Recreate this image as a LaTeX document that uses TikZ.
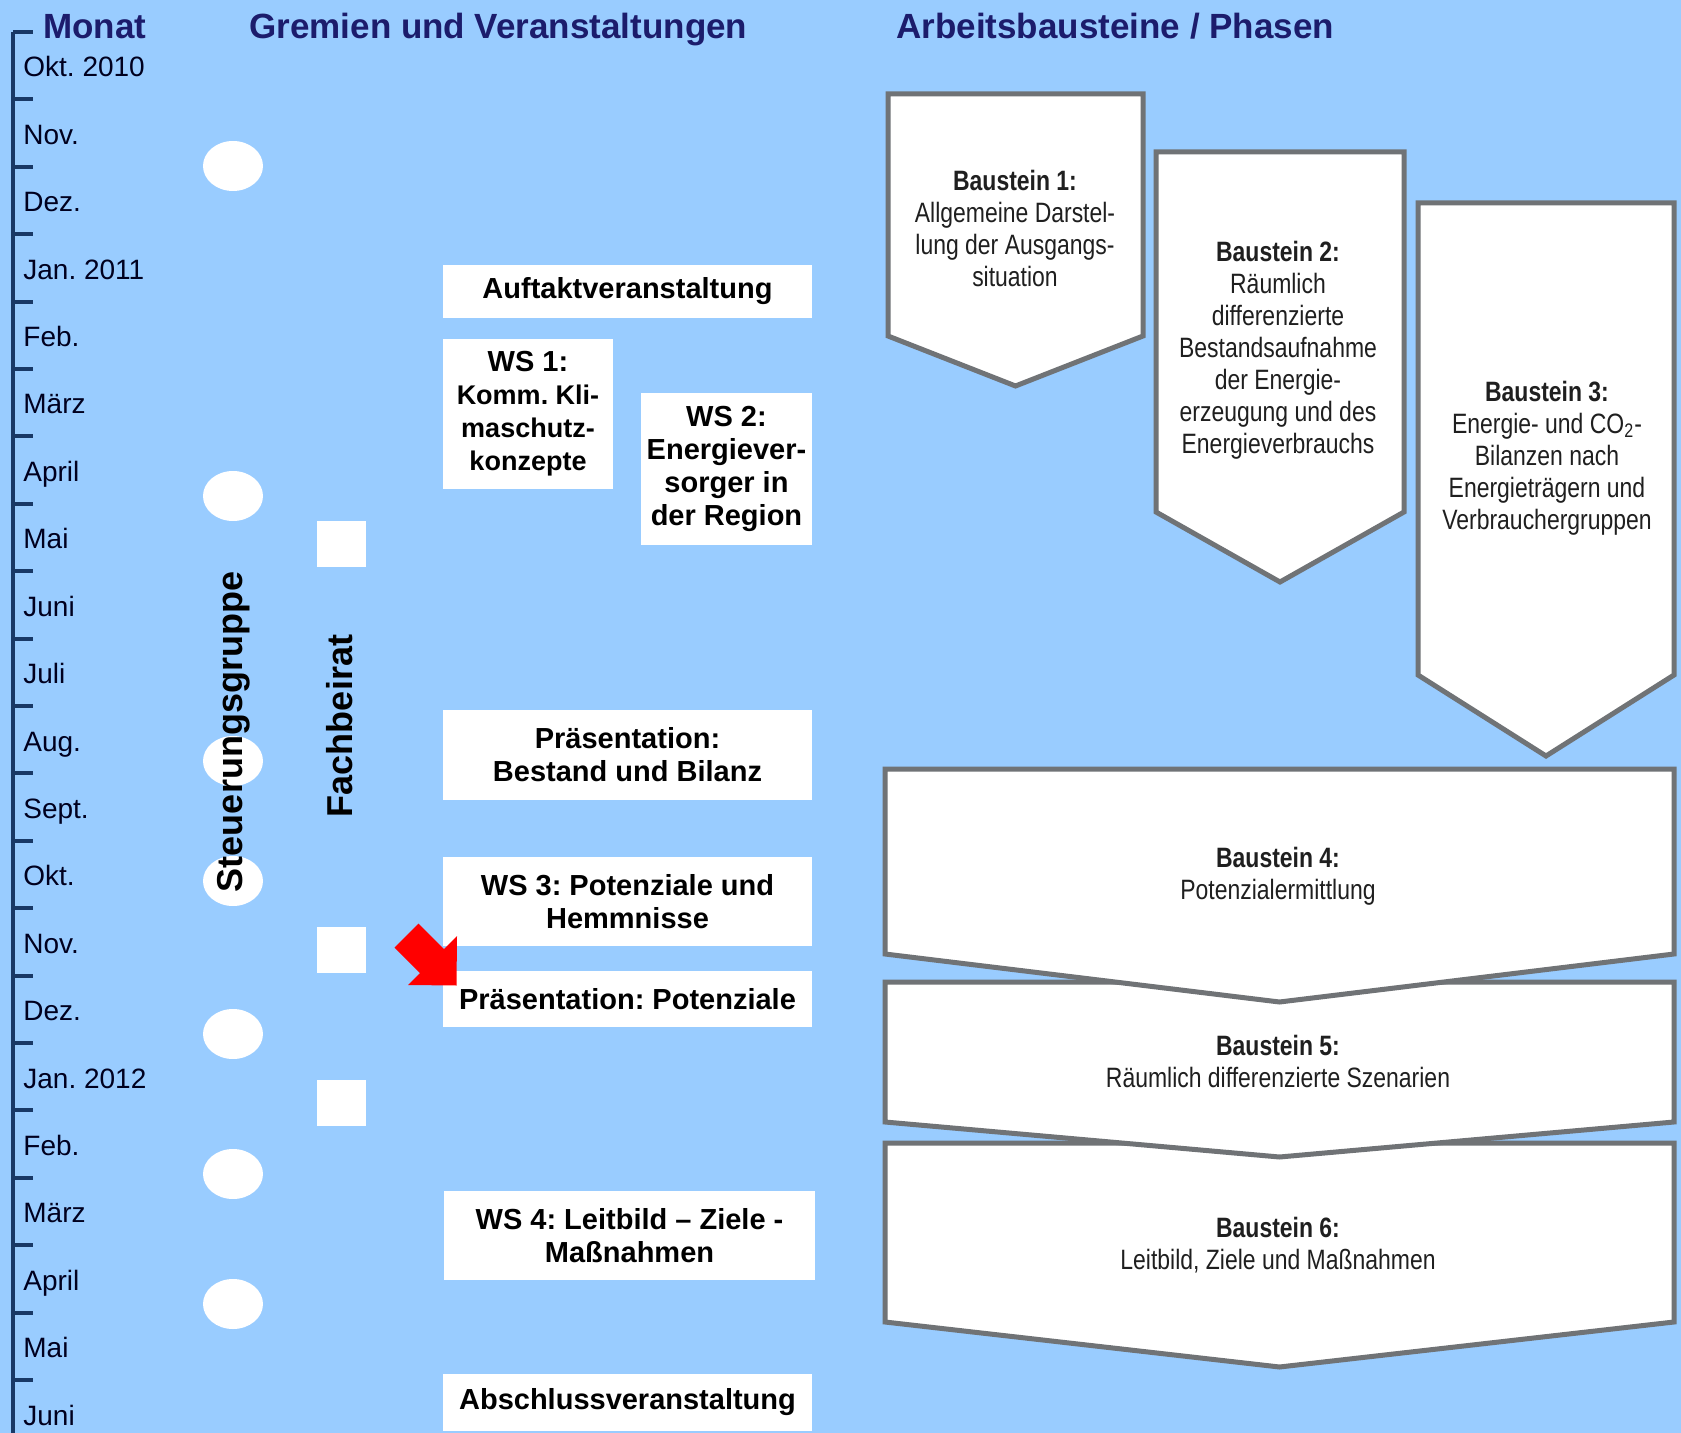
\documentclass[tikz,border=0pt]{standalone}
\usepackage{fontspec}
\setmainfont{Liberation Sans}
\newfontfamily\narrowfont[FakeStretch=0.82]{Liberation Sans}
\usepackage{xcolor}
\usepackage{tikz}
\usetikzlibrary{shapes.geometric}
\definecolor{planbg}{RGB}{153,204,255}
\definecolor{headnavy}{RGB}{28,28,108}
\definecolor{axisblue}{RGB}{24,56,102}
\definecolor{chevgray}{RGB}{112,115,118}
\tikzset{
  headlabel/.style={anchor=base west, inner sep=0pt, text=headnavy, font=\bfseries\fontsize{17.5}{20}\selectfont},
  monthlabel/.style={anchor=base west, inner sep=0pt, text=black!88!blue, font=\fontsize{14}{16}\selectfont},
  axisline/.style={axisblue, line width=2pt},
  meetdot/.style={ellipse, fill=white, inner sep=0pt, minimum width=30pt, minimum height=25pt},
  meetsquare/.style={rectangle, fill=white, inner sep=0pt, minimum width=24.5pt, minimum height=23pt},
  grouplabel/.style={rotate=90, inner sep=0pt, font=\bfseries\fontsize{18}{20}\selectfont},
  eventbox/.style={fill=white, inner sep=0pt, align=center, font=\bfseries\fontsize{14.5}{16.5}\selectfont},
  bausteinshape/.style={draw=chevgray, line width=2.5pt, fill=white, line join=miter},
  bausteintext/.style={align=center, inner sep=0pt, text=black!88, font=\narrowfont\fontsize{14}{16}\selectfont},
}

\begin{document}
\frenchspacing
\begin{tikzpicture}[x=0.5pt,y=-0.5pt]
	% Background
		\fill[planbg] (0,0) rectangle (1681,1433);
		\useasboundingbox (0,0) rectangle (1681,1433);

	% Column heads
		\node[headlabel] (hmonat) at (43,39) {Monat};
		\node[headlabel] (hgremien) at (249,39) {Gremien und Veranstaltungen};
		\node[headlabel] (hbausteine) at (896,39) {Arbeitsbausteine / Phasen};

	% Month axis
		\draw[axisline] (13,32) -- (13,1433);
		\foreach \k in {0,...,20}
			\draw[axisline] (13,{32+67.4*\k}) -- (33,{32+67.4*\k});
		\foreach \m [count=\i from 0] in {Okt. 2010,Nov.,Dez.,Jan. 2011,Feb.,März,April,Mai,Juni,Juli,Aug.,Sept.,Okt.,Nov.,Dez.,Jan. 2012,Feb.,März,April,Mai,Juni}
			\node[monthlabel] (month\i) at (23,{77+67.4*\i}) {\m};

	% Steuerungsgruppe and Fachbeirat meetings
		\foreach \y [count=\i] in {166,496,761,881,1034,1174,1304}
			\node[meetdot] (sg\i) at (233,\y) {};
		\foreach \y [count=\i] in {544,950,1103}
			\node[meetsquare] (fb\i) at (341.5,\y) {};
		\node[grouplabel] (steuerung) at (234,732) {Steuerungsgruppe};
		\node[grouplabel] (fachbeirat) at (340,726) {Fachbeirat};

	% Events and workshops
		\node[eventbox, minimum width=184.5pt, minimum height=26.5pt] (auftakt) at (627.5,291.5) {Auftaktveranstaltung};
		\node[eventbox, minimum width=85pt, minimum height=75pt] (ws1) at (528,414)
			{WS 1:\\{\fontsize{13.5}{16.5}\selectfont Komm. Kli-}\\{\fontsize{13.5}{16.5}\selectfont maschutz-}\\{\fontsize{13.5}{16.5}\selectfont konzepte}};
		\node[eventbox, minimum width=85.5pt, minimum height=76pt] (ws2) at (726.5,469) {WS 2:\\Energiever-\\sorger in\\der Region};
		\node[eventbox, minimum width=184.5pt, minimum height=45pt] (praesbestand) at (627.5,755) {Präsentation:\\Bestand und Bilanz};
		\node[eventbox, minimum width=184.5pt, minimum height=44.5pt] (ws3) at (627.5,901.5) {WS 3: Potenziale und\\Hemmnisse};
		\node[eventbox, minimum width=184.5pt, minimum height=28pt] (praespot) at (627.5,999) {Präsentation: Potenziale};
		\node[eventbox, minimum width=185.5pt, minimum height=44.5pt] (ws4) at (629.5,1235.5) {WS 4: Leitbild – Ziele -\\Maßnahmen};
		\node[eventbox, minimum width=184.5pt, minimum height=28.5pt] (abschluss) at (627.5,1402.5) {Abschlussveranstaltung};

	% Red pointer at the Potenziale presentation
		\fill[red] (418.5,923.5) -- (444,949) -- (457,936) -- (456.5,985.5) -- (408,985) -- (420,973) -- (394.5,947.5) -- cycle;

	% Bausteine 1-3 (staggered)
		\draw[bausteinshape] (888,94) -- (1143,94) -- (1143,336) -- (1015.5,386) -- (888,336) -- cycle;
		\draw[bausteinshape] (1156,152) -- (1404,152) -- (1404,512) -- (1280,582) -- (1156,512) -- cycle;
		\draw[bausteinshape] (1418,203) -- (1674,203) -- (1674,675) -- (1546,756) -- (1418,675) -- cycle;
		\node[bausteintext] (b1) at (1015,228) {\textbf{Baustein 1:}\\Allgemeine Darstel-\\lung der Ausgangs-\\situation};
		\node[bausteintext] (b2) at (1278,350) {\textbf{Baustein 2:}\\Räumlich\\differenzierte\\Bestandsaufnahme\\der Energie-\\erzeugung und des\\Energieverbrauchs};
		\node[bausteintext] (b3) at (1547,458) {\textbf{Baustein 3:}\\Energie- und CO\textsubscript{2}-\\Bilanzen nach\\Energieträgern und\\Verbrauchergruppen};

	% Bausteine 4-6 (full width, upper one on top)
		\draw[bausteinshape] (885,1143) -- (1674,1143) -- (1674,1322) -- (1279.5,1367) -- (885,1322) -- cycle;
		\draw[bausteinshape] (885,982) -- (1674,982) -- (1674,1122) -- (1279.5,1157) -- (885,1122) -- cycle;
		\draw[bausteinshape] (885,769) -- (1674,769) -- (1674,954) -- (1279.5,1002) -- (885,954) -- cycle;
		\node[bausteintext] (b4) at (1278,876) {\textbf{Baustein 4:}\\Potenzialermittlung};
		\node[bausteintext] (b5) at (1278,1061) {\textbf{Baustein 5:}\\Räumlich differenzierte Szenarien};
		\node[bausteintext] (b6) at (1278,1245) {\textbf{Baustein 6:}\\Leitbild, Ziele und Maßnahmen};
\end{tikzpicture}
\end{document}
